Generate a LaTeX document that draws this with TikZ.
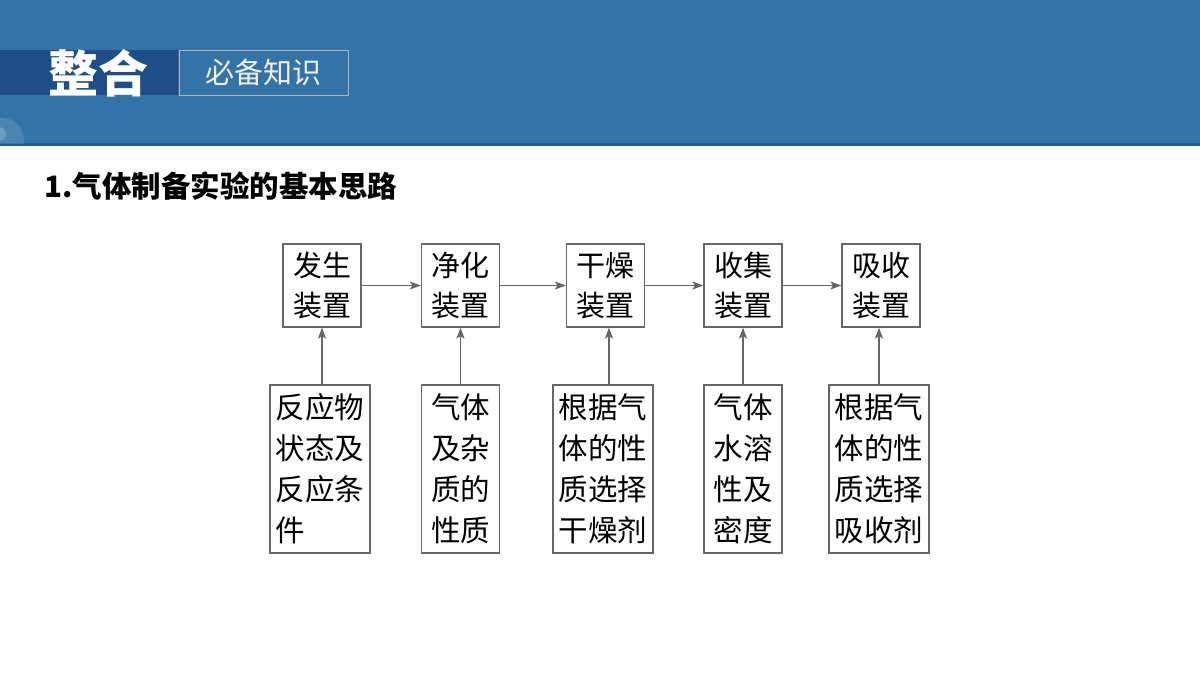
\documentclass[tikz,border=0pt]{standalone}
\usepackage{fontspec}
\setmainfont{Noto Sans CJK SC}
\newfontfamily\cjk{Noto Sans CJK SC}
\usetikzlibrary{arrows.meta}
\definecolor{bandblue}{HTML}{3473A8}
\definecolor{bandline}{HTML}{1F5E9E}
\definecolor{darkband}{HTML}{1E4D8A}
\definecolor{linegray}{HTML}{666666}
\tikzset{
  topbox/.style={draw=linegray, line width=1.2pt, minimum width=78pt, minimum height=83pt,
    inner sep=0pt, align=center, font=\cjk\fontsize{29}{40}\selectfont, text=black},
  botbox/.style={draw=linegray, line width=1.2pt, minimum height=168pt,
    inner sep=0pt, align=left, font=\cjk\fontsize{29.5}{41}\selectfont, text=black},
  flowarrow/.style={draw=linegray, line width=1.4pt, -{Stealth[length=11pt,width=8pt,inset=2.5pt]}}
}
\begin{document}
\begin{tikzpicture}[x=1pt,y=-1pt]
\useasboundingbox (0,0) rectangle (1200,675);
% header
\fill[bandblue] (0,0) rectangle (1200,145);
\fill[bandline] (0,143) rectangle (1200,146);
\begin{scope}
\clip (0,0) rectangle (1200,143);
\fill[white, opacity=0.12] (2,140) circle (22);
\fill[white, opacity=0.2] (-1,134) circle (7);
\end{scope}
\fill[darkband] (0,50) rectangle (178,95);
\node[font=\cjk\bfseries\fontsize{50}{50}\selectfont, text=white] (zh) at (98,73) {整合};
\node[draw=gray!60, line width=1pt, minimum width=169pt, minimum height=45pt, inner sep=0pt,
  font=\cjk\fontsize{29}{29}\selectfont, text=white!88!gray] (bk) at (263.5,72.5) {必备知识};
% title
\node[anchor=west, font=\cjk\bfseries\fontsize{29.5}{29.5}\selectfont, text=black, inner sep=0pt] (title) at (44,186) {1.气体制备实验的基本思路};
% top boxes
\node[topbox] (t1) at (322,285.5) {发生\\装置};
\node[topbox] (t2) at (460.5,285.5) {净化\\装置};
\node[topbox] (t3) at (605.5,285.5) {干燥\\装置};
\node[topbox] (t4) at (743,285.5) {收集\\装置};
\node[topbox] (t5) at (881,285.5) {吸收\\装置};
% bottom boxes
\node[botbox, minimum width=100pt] (b1) at (320,469) {反应物\\状态及\\反应条\\件};
\node[botbox, minimum width=78pt] (b2) at (460.5,469) {气体\\及杂\\质的\\性质};
\node[botbox, minimum width=100pt] (b3) at (603,469) {根据气\\体的性\\质选择\\干燥剂};
\node[botbox, minimum width=78pt] (b4) at (743,469) {气体\\水溶\\性及\\密度};
\node[botbox, minimum width=100pt] (b5) at (879,469) {根据气\\体的性\\质选择\\吸收剂};
% horizontal arrows
\draw[flowarrow] (t1) -- (t2);
\draw[flowarrow] (t2) -- (t3);
\draw[flowarrow] (t3) -- (t4);
\draw[flowarrow] (t4) -- (t5);
% vertical arrows
\draw[flowarrow] (b1.north -| t1.south) -- (t1.south);
\draw[flowarrow] (b2.north) -- (t2.south);
\draw[flowarrow] ([xshift=6pt]b3.north) -- ([xshift=6pt]b3.north |- t3.south);
\draw[flowarrow] (b4.north) -- (t4.south);
\draw[flowarrow] (b5.north) -- (b5.north |- t5.south);
\end{tikzpicture}
\end{document}
